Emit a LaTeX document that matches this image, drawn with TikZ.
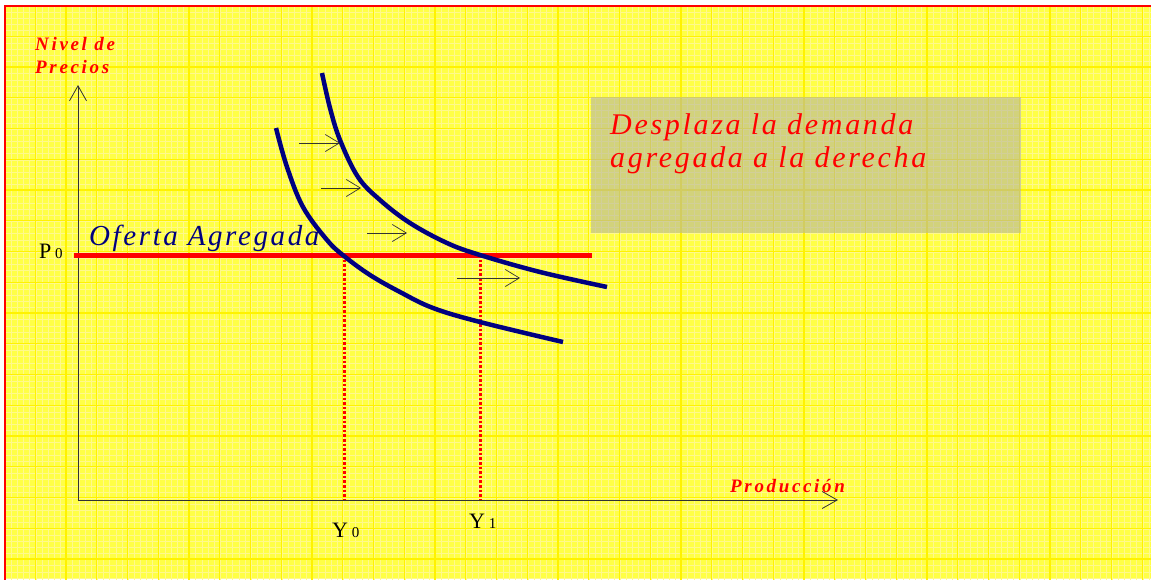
\documentclass[tikz,border=0pt]{standalone}
\usepackage{fontspec}
\setmainfont{Liberation Serif}
\newfontfamily\spacedfont[LetterSpace=9]{Liberation Serif}
\newfontfamily\widefont[LetterSpace=14]{Liberation Serif}
\usetikzlibrary{arrows.meta}
\definecolor{bgyellow}{RGB}{255,255,70}
\definecolor{navyblue}{RGB}{0,0,128}
\definecolor{boxgray}{RGB}{180,180,160}
\newcommand{\subnum}[1]{\,{\fontsize{15}{15}\selectfont #1}}

\begin{document}
\begin{tikzpicture}[x=1pt,y=-1pt,
    axis/.style={black!80, line width=.8pt},
    shiftarrow/.style={black!80, line width=.7pt, -{Straight Barb[length=14pt,width=17pt]}},
    demand/.style={navyblue, line width=4.5pt},
    guide/.style={red, line width=3pt, dash pattern=on 2.6pt off 2pt},
    label/.style={inner sep=0pt, anchor=base west},
    title/.style={label, red, font=\spacedfont\fontsize{30}{30}\selectfont\itshape},
    axlabel/.style={label, red, font=\widefont\fontsize{19}{19}\selectfont\bfseries\itshape},
    ticklabel/.style={label, font=\fontsize{22}{22}\selectfont}]
\useasboundingbox (0,0) rectangle (1151,579);
\clip (0,0) rectangle (1151,579);
    % background with grid
\fill[white] (0,0) rectangle (1151,579);
\fill[bgyellow] (5,6) rectangle (1151,579);
\foreach \k in {0,...,190}
  {\draw[white!55!yellow, line width=.4pt] ({5+6.15*\k},6) -- ++(0,580);
   \draw[white!55!yellow, line width=.4pt] (5,{6+6.15*\k}) -- ++(1150,0);}
\foreach \k in {0,...,38}
  {\draw[yellow, line width=1.4pt] ({4.5+30.75*\k},6) -- ++(0,580);
   \draw[yellow, line width=1.4pt] (5,{5.5+30.75*\k}) -- ++(1150,0);}
\draw[red, line width=2.5pt] (5,590) -- (5,6) -- (1160,6);

    % text box
\fill[boxgray, opacity=.6] (591,97) rectangle (1021,233);
\node (msg1) at (610,134) [title] {Desplaza la demanda};
\node (msg2) at (610,167) [title] {agregada a la derecha};

    % axes
\coordinate (O) at (78,500);
\coordinate (ytop) at (78,85);
\coordinate (xend) at (838,500);
\draw[axis, -{Straight Barb[length=15pt,width=17pt]}] (O) -- (ytop);
\draw[axis, -{Straight Barb[length=15pt,width=17pt]}] (O) -- (xend);
\node (nivel) at (35,50) [axlabel] {Nivel de};
\node (precios) at (35,73) [axlabel] {Precios};
\node (prod) at (730,492) [axlabel] {Producción};

    % aggregate supply
\coordinate (p0) at (74,255);
\coordinate (pend) at (592,255);
\coordinate (e0) at (344,255);
\coordinate (e1) at (480,255);
\coordinate (y0) at (344,500);
\coordinate (y1) at (480,500);
\draw[guide] (e0) -- (y0);
\draw[guide] (e1) -- (y1);
\draw[red, line width=5pt] (p0) -- (pend);
\node (oferta) at (89,245) [label, navyblue, font=\spacedfont\fontsize{29}{29}\selectfont\itshape] {Oferta Agregada};
\node (P0) at (39,258) [ticklabel] {P\subnum{0}};
\node (Y0) at (332,537) [ticklabel] {Y\subnum{0}};
\node (Y1) at (469,528) [ticklabel] {Y\subnum{1}};

    % demand curves
\draw[demand] plot[smooth, tension=.6] coordinates
  {(276,128) (287,167) (303,207) (327,240) (344,256) (370,275) (400,292) (433,308) (480,322) (563,342)};
\draw[demand] plot[smooth, tension=.6] coordinates
  {(322,73) (330,108) (340,140) (358,177) (380,200) (410,223) (447,243) (480,255) (540,272) (607,287)};

    % shift arrows
\foreach \i/\xa/\xb/\yy in {1/299/340/143, 2/321/361/188, 3/367/407/233, 4/457/520/278}
  {\coordinate (s\i) at (\xa,\yy);
   \coordinate (t\i) at (\xb,\yy);
   \draw[shiftarrow] (s\i) -- (t\i);}
\end{tikzpicture}
\end{document}
